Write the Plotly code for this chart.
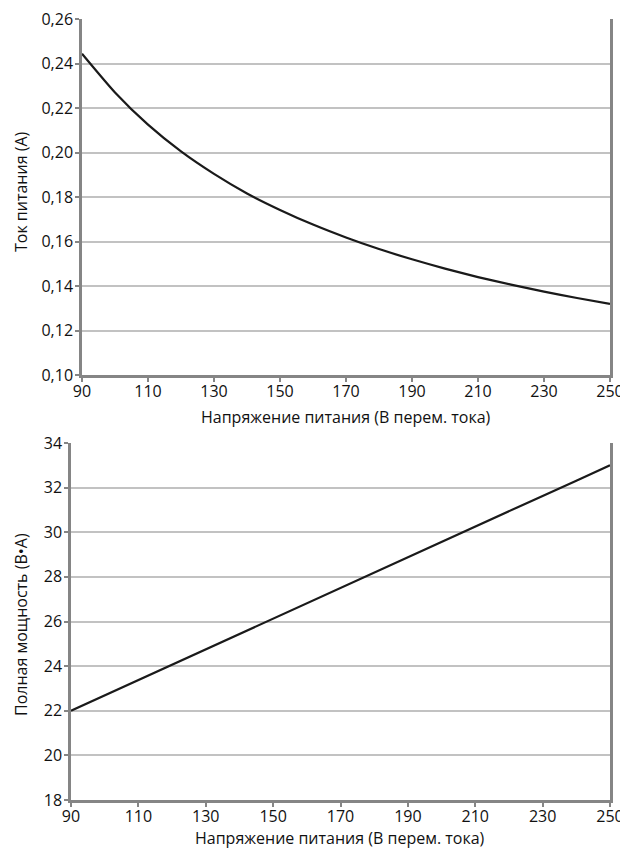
import plotly.graph_objects as go

# напряжение питания, В перем. тока
voltage = [90, 100, 110, 120, 130, 140, 150, 160, 170, 180, 190, 200, 210, 220, 230, 240, 250]
# ток питания, А
current = [0.2444, 0.2270, 0.2125, 0.2005, 0.1904, 0.1816, 0.1742, 0.1676, 0.1618,
           0.1566, 0.1520, 0.1478, 0.1440, 0.1406, 0.1375, 0.1346, 0.1320]
# полная мощность, В*А
power = [22.0, 22.69, 23.38, 24.06, 24.75, 25.44, 26.13, 26.81, 27.5,
         28.19, 28.88, 29.56, 30.25, 30.94, 31.63, 32.31, 33.0]

x_ticks = [90, 110, 130, 150, 170, 190, 210, 230, 250]
cur_ticks = [0.10, 0.12, 0.14, 0.16, 0.18, 0.20, 0.22, 0.24, 0.26]
pow_ticks = [18, 20, 22, 24, 26, 28, 30, 32, 34]

# страница рисуется со сдвигом 8px (отступ body)
W, H = 620, 840
font = "Open Sans"
grid_col = "#c2c2c2"
axis_col = "#858585"

fig = go.Figure()
fig.add_trace(go.Scatter(x=voltage, y=current, mode="lines", xaxis="x", yaxis="y",
                         line=dict(color="#1a1a1a", width=2.2, shape="spline", smoothing=0.6),
                         showlegend=False))
fig.add_trace(go.Scatter(x=voltage, y=power, mode="lines", xaxis="x2", yaxis="y2",
                         line=dict(color="#1a1a1a", width=2.2), showlegend=False))

xax = dict(range=[90, 250], tickvals=x_ticks, showgrid=False, zeroline=False,
           showline=True, linecolor=axis_col, linewidth=2.5,
           ticks="outside", ticklen=4, tickcolor=axis_col, tickwidth=1.5,
           ticklabelstandoff=-4, ticklabeloverflow="allow",
           tickfont=dict(family=font, size=16, color="#111"), automargin=False)
yax = dict(showgrid=True, gridcolor=grid_col, gridwidth=2, zeroline=False,
           showline=True, linecolor=axis_col, linewidth=2.5, mirror=True,
           ticks="outside", ticklen=4, tickcolor=axis_col, tickwidth=1.5,
           ticklabelstandoff=-1, ticklabeloverflow="allow",
           tickfont=dict(family=font, size=16, color="#111"), automargin=False)

fig.update_layout(
    width=W, height=H,
    margin=dict(l=0, r=0, t=0, b=0),
    paper_bgcolor="white", plot_bgcolor="white",
    separators=", ",
    font=dict(family=font, size=16, color="#111"),
    xaxis=dict(xax, domain=[74 / W, 602 / W], anchor="y"),
    yaxis=dict(yax, domain=[1 - 367 / H, 1 - 11 / H], anchor="x",
               range=[0.10, 0.26], tickvals=cur_ticks, tickformat=".2f"),
    xaxis2=dict(xax, domain=[63 / W, 602 / W], anchor="y2"),
    yaxis2=dict(yax, domain=[1 - 792 / H, 1 - 435 / H], anchor="x2",
                range=[18, 34], tickvals=pow_ticks, tickformat="d"),
)

titles = [
    ("Напряжение питания (В перем. тока)", 338 / W, 1 - 409 / H, 0),
    ("Напряжение питания (В перем. тока)", 332 / W, 1 - 830 / H, 0),
    ("Ток питания (А)", 13 / W, 1 - 184 / H, -90),
    ("Полная мощность (В•А)", 13 / W, 1 - 617 / H, -90),
]
for text, x, y, ang in titles:
    fig.add_annotation(text=text, x=x, y=y, xref="paper", yref="paper",
                       showarrow=False, textangle=ang, xanchor="center", yanchor="middle",
                       font=dict(family=font, size=16, color="#111"))

fig.write_html("out.html")
